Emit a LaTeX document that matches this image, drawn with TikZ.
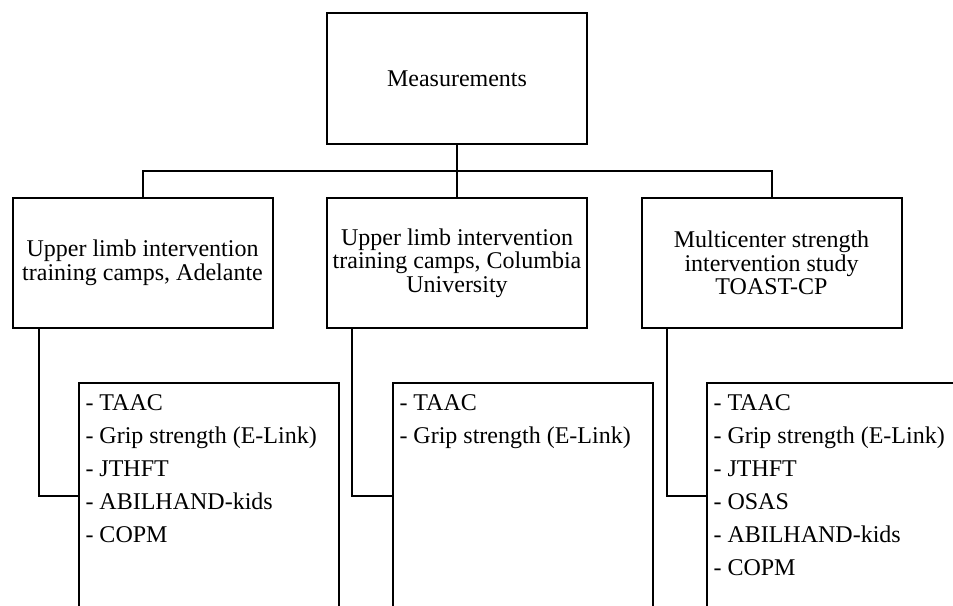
\documentclass[tikz,border=0pt]{standalone}
\usepackage{fontspec}
\setmainfont{Liberation Serif}
\begin{document}
\begin{tikzpicture}[x=0.5pt,y=-0.5pt,line width=1pt,
  box/.style={draw, line width=1pt, minimum width=130pt, minimum height=65pt,
    align=center, inner sep=0pt, font=\fontsize{12}{11.75}\selectfont},
  listbox/.style={draw, line width=1pt, minimum width=130pt, minimum height=113pt,
    anchor=north west, inner sep=0pt},
  listtext/.style={anchor=north west, align=left, inner sep=0pt,
    font=\fontsize{12}{16.5}\selectfont},
  conn/.style={draw, line width=1pt}]
\useasboundingbox (0,0) rectangle (953,605);
\clip (0,0) rectangle (953,605);

\node[box, minimum height=65.5pt] (top) at (457,78.5) {Measurements};
\node[box] (b1) at (142.5,263) {Upper limb intervention\\training camps, Adelante};
\node[box] (b2) at (457,263) {Upper limb intervention\\training camps, Columbia\\University};
\node[box] (b3) at (771.5,263) {Multicenter strength\\intervention study\\TOAST-CP};

\node[listbox] (l1) at (78,382) {};
\node[listbox] (l2) at (392,382) {};
\node[listbox] (l3) at (706,382) {};

\node[listtext] (t1) at ([shift={(6.5,12)}]l1.north west)
  {- TAAC\\- Grip strength (E-Link)\\- JTHFT\\- ABILHAND-kids\\- COPM};
\node[listtext] (t2) at ([shift={(6.5,12)}]l2.north west)
  {- TAAC\\- Grip strength (E-Link)};
\node[listtext] (t3) at ([shift={(6.5,12)}]l3.north west)
  {- TAAC\\- Grip strength (E-Link)\\- JTHFT\\- OSAS\\- ABILHAND-kids\\- COPM};

\coordinate (bus) at (457,171);
\draw[conn] (top.south) -- (b2.north);
\draw[conn] (b1.north) |- (bus) -| (b3.north);

\draw[conn] ([xshift=13.5pt]b1.south west) |- (l1.west);
\draw[conn] ([xshift=13pt]b2.south west) |- (l2.west);
\draw[conn] ([xshift=13pt]b3.south west) |- (l3.west);
\end{tikzpicture}
\end{document}
